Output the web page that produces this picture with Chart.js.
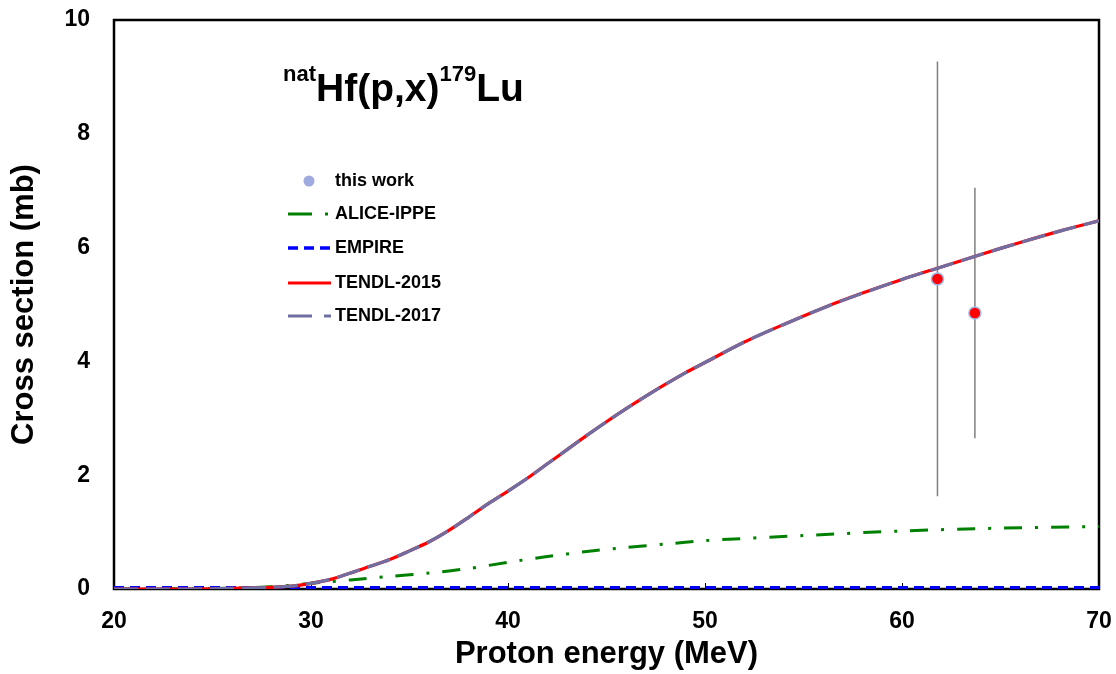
<!DOCTYPE html>
<html>
<head>
<meta charset="utf-8">
<title>natHf(p,x)179Lu</title>
<script src="https://cdn.jsdelivr.net/npm/chart.js@4.4.1/dist/chart.umd.min.js"></script>
<style>
    html, body { margin: 0; padding: 0; background: #fff; }
    #wrap { width: 1116px; height: 674px; position: relative; }
</style>
</head>
<body>
<div id="wrap"><canvas id="xs-chart"></canvas></div>
<script>
// Courbes d'excitation natHf(p,x)179Lu

// TENDL (2015 et 2017 se superposent)
const tendlEnergy = [20, 22, 24, 26, 28, 29, 30, 31, 32, 33, 34, 35, 36, 37, 38, 39, 40, 41, 42, 43, 44, 45, 46, 47, 48, 49, 50, 52, 54, 56, 58, 60, 62, 64, 66, 68, 70];
const tendl2015Xs = [0, 0, 0, 0.01, 0.03, 0.05, 0.1, 0.17, 0.28, 0.4, 0.52, 0.67, 0.83, 1.03, 1.26, 1.5, 1.72, 1.95, 2.2, 2.45, 2.7, 2.94, 3.17, 3.39, 3.6, 3.8, 3.98, 4.34, 4.65, 4.94, 5.2, 5.44, 5.66, 5.88, 6.09, 6.29, 6.47];
const tendl2017Xs = [0, 0, 0, 0.01, 0.03, 0.05, 0.1, 0.17, 0.28, 0.4, 0.52, 0.67, 0.83, 1.03, 1.26, 1.5, 1.72, 1.95, 2.2, 2.45, 2.7, 2.94, 3.17, 3.39, 3.6, 3.8, 3.98, 4.34, 4.65, 4.94, 5.2, 5.44, 5.66, 5.88, 6.09, 6.29, 6.47];

// ALICE-IPPE
const aliceEnergy = [20, 25, 28, 30, 32, 34, 36, 38, 40, 42, 44, 46, 48, 50, 55, 60, 65, 70];
const aliceXs = [0, 0.01, 0.04, 0.1, 0.16, 0.22, 0.28, 0.36, 0.47, 0.57, 0.66, 0.73, 0.79, 0.85, 0.94, 1.02, 1.07, 1.1];

// EMPIRE (quasi nul)
const empireEnergy = [20, 30, 40, 50, 60, 70];
const empireXs = [0.02, 0.02, 0.02, 0.02, 0.02, 0.02];

// Mesures (this work)
const expEnergy = [61.8, 63.7];
const expXs = [5.45, 4.85];
const expErr = [3.82, 2.2];

// Axes
const xTicks = [20, 30, 40, 50, 60, 70];
const yTicks = [0, 2, 4, 6, 8, 10];

const toPoints = (xs, ys) => xs.map((x, i) => ({ x: x, y: ys[i] }));
const FONT = '"Liberation Sans", Arial, sans-serif';

// Cadre, petites graduations internes, barres d'erreur
const framePlugin = {
    id: 'frame',
    beforeDatasetsDraw(chart) {
        const { ctx, chartArea: a, scales } = chart;
        ctx.save();
        ctx.strokeStyle = '#000';
        ctx.lineWidth = 2.5;
        ctx.strokeRect(a.left, a.top, a.right - a.left, a.bottom - a.top);
        ctx.lineWidth = 1;
        xTicks.forEach(v => {
            const px = Math.round(scales.x.getPixelForValue(v)) + 0.5;
            ctx.beginPath();
            ctx.moveTo(px, a.bottom);
            ctx.lineTo(px, a.bottom - 6);
            ctx.stroke();
        });
        ctx.strokeStyle = '#7f7f7f';
        ctx.lineWidth = 1.5;
        expEnergy.forEach((e, i) => {
            const px = scales.x.getPixelForValue(e);
            ctx.beginPath();
            ctx.moveTo(px, scales.y.getPixelForValue(expXs[i] + expErr[i]));
            ctx.lineTo(px, scales.y.getPixelForValue(expXs[i] - expErr[i]));
            ctx.stroke();
        });
        ctx.restore();
    }
};

// Titre de la réaction et légende
const annotPlugin = {
    id: 'annot',
    afterDraw(chart) {
        const ctx = chart.ctx;
        ctx.save();
        ctx.fillStyle = '#000';
        ctx.textBaseline = 'alphabetic';
        let x = 283;
        const base = 101;
        const parts = [['nat', 22, -20], ['Hf(p,x)', 39, 0], ['179', 22, -20], ['Lu', 39, 0]];
        parts.forEach(([t, size, dy]) => {
            ctx.font = `bold ${size}px ${FONT}`;
            ctx.fillText(t, x, base + dy);
            x += ctx.measureText(t).width;
        });

        // légende
        const rows = [181, 214, 248, 283, 316];
        ctx.font = `bold 18px ${FONT}`;
        ctx.textBaseline = 'middle';
        chart.data.datasets.forEach(ds => {
            const y = rows[ds.legendRow];
            if (ds.legendRow === 0) {
                ctx.fillStyle = '#9eaae0';
                ctx.beginPath();
                ctx.arc(309, y, 5.5, 0, Math.PI * 2);
                ctx.fill();
            } else {
                ctx.strokeStyle = ds.borderColor;
                ctx.lineWidth = ds.borderWidth;
                ctx.setLineDash(ds.legendDash || []);
                ctx.beginPath();
                ctx.moveTo(288, y);
                ctx.lineTo(331, y);
                ctx.stroke();
                ctx.setLineDash([]);
            }
            ctx.fillStyle = '#000';
            ctx.fillText(ds.label, 335, y);
        });
        ctx.restore();
    }
};

// pas de marge automatique pour les étiquettes qui débordent
const noOverhang = s => {
    s.paddingLeft = 0;
    s.paddingRight = 0;
    s.paddingTop = 0;
    s.paddingBottom = 0;
};

const lineStyle = {
    showLine: true,
    pointRadius: 0,
    pointHoverRadius: 0,
    tension: 0.3,
    fill: false,
    borderWidth: 3
};

new Chart(document.getElementById('xs-chart'), {
    type: 'scatter',
    data: {
        datasets: [
            {
                label: 'this work',
                data: toPoints(expEnergy, expXs),
                backgroundColor: '#ff0000',
                borderColor: '#a4b4e4',
                borderWidth: 1.5,
                pointRadius: 6,
                order: 0,
                legendRow: 0
            },
            Object.assign({}, lineStyle, {
                label: 'ALICE-IPPE',
                data: toPoints(aliceEnergy, aliceXs),
                borderColor: '#008000',
                borderDash: [18, 13, 3, 13],
                legendDash: [24, 13, 3, 40],
                order: 4,
                legendRow: 1
            }),
            Object.assign({}, lineStyle, {
                label: 'EMPIRE',
                data: toPoints(empireEnergy, empireXs),
                borderColor: '#0000ff',
                borderWidth: 3.5,
                borderDash: [10, 6],
                legendDash: [10, 6],
                tension: 0,
                order: 3,
                legendRow: 2
            }),
            Object.assign({}, lineStyle, {
                label: 'TENDL-2015',
                data: toPoints(tendlEnergy, tendl2015Xs),
                borderColor: '#ff0000',
                borderWidth: 3.2,
                order: 2,
                legendRow: 3
            }),
            Object.assign({}, lineStyle, {
                label: 'TENDL-2017',
                data: toPoints(tendlEnergy, tendl2017Xs),
                borderColor: '#6e6ea2',
                borderWidth: 3.2,
                borderDash: [24, 8],
                legendDash: [24, 12, 8, 40],
                order: 1,
                legendRow: 4
            })
        ]
    },
    options: {
        responsive: true,
        maintainAspectRatio: false,
        animation: false,
        layout: { padding: { top: 20, right: 17, left: 0, bottom: 0 } },
        plugins: {
            legend: { display: false },
            tooltip: { enabled: false }
        },
        scales: {
            x: {
                type: 'linear',
                min: 20,
                max: 70,
                afterBuildTicks: s => { s.ticks = xTicks.map(v => ({ value: v })); },
                afterFit: s => { s.height = 85; noOverhang(s); },
                grid: { display: false, drawTicks: false },
                border: { display: false },
                ticks: {
                    color: '#000',
                    padding: 19,
                    font: { family: FONT, size: 23, weight: 'bold' }
                },
                title: {
                    display: true,
                    text: 'Proton energy (MeV)',
                    color: '#000',
                    padding: { top: 0, bottom: 1 },
                    font: { family: FONT, size: 31, weight: 'bold' }
                }
            },
            y: {
                type: 'linear',
                min: 0,
                max: 10,
                afterBuildTicks: s => { s.ticks = yTicks.map(v => ({ value: v })); },
                afterFit: s => { s.width = 114; noOverhang(s); },
                grid: { display: false, drawTicks: false },
                border: { display: false },
                ticks: {
                    color: '#000',
                    padding: 24,
                    font: { family: FONT, size: 23, weight: 'bold' }
                },
                title: {
                    display: true,
                    text: 'Cross section (mb)',
                    color: '#000',
                    padding: { top: 6, bottom: 0 },
                    font: { family: FONT, size: 31, weight: 'bold' }
                }
            }
        }
    },
    plugins: [framePlugin, annotPlugin]
});
</script>
</body>
</html>
